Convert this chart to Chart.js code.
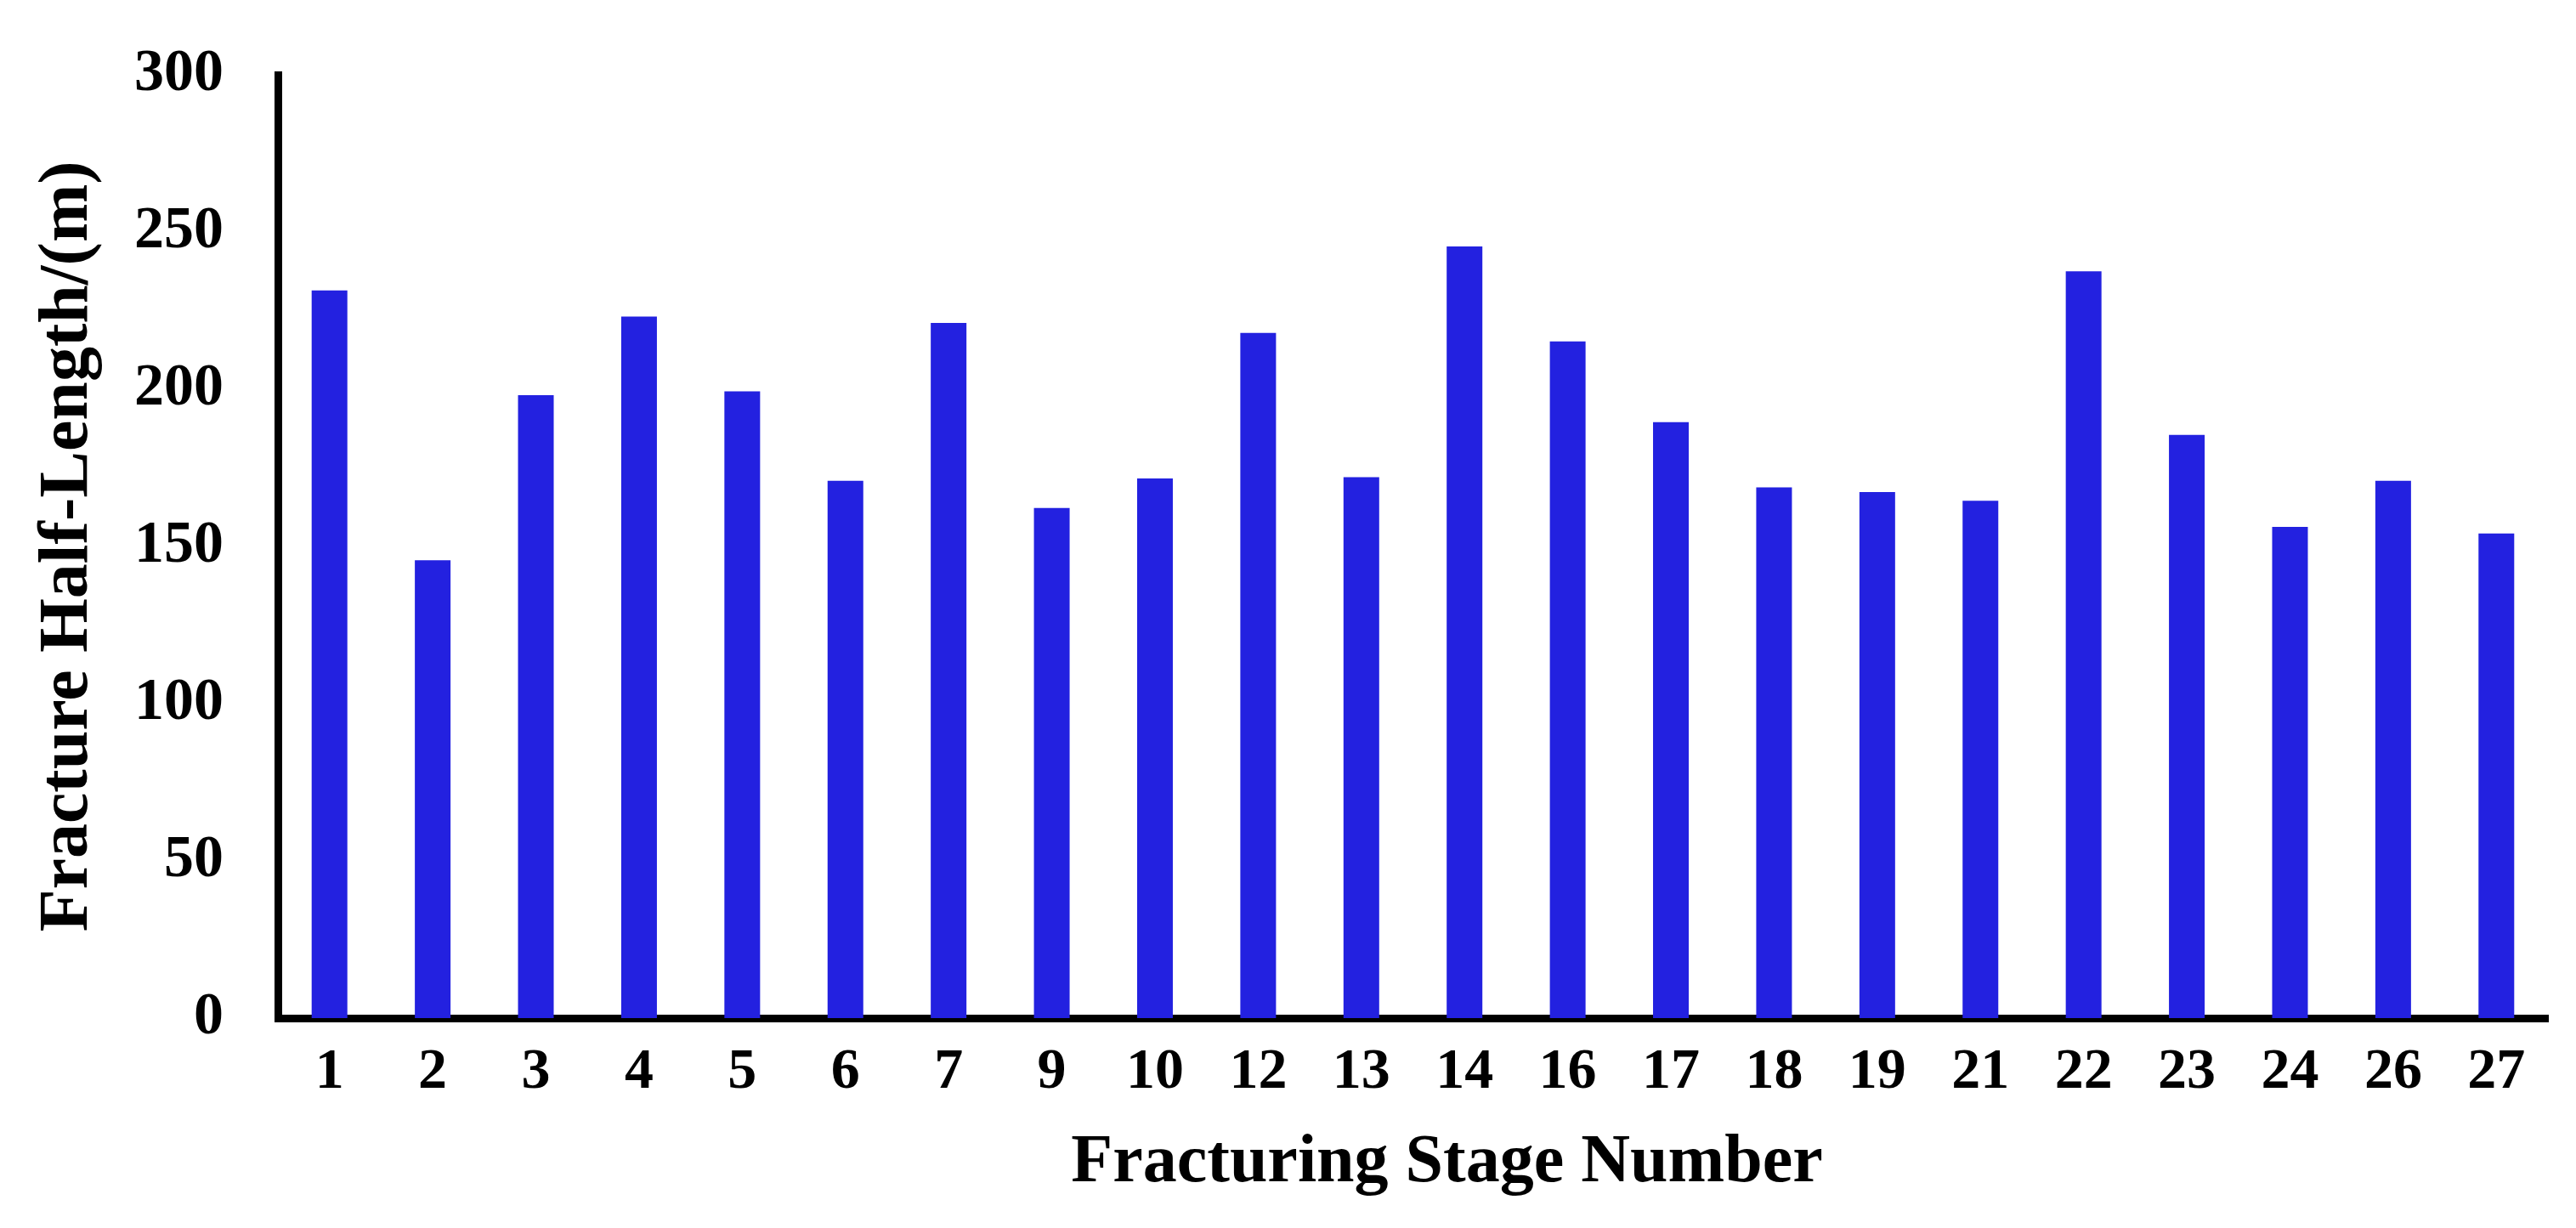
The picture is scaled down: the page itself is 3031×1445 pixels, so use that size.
<!DOCTYPE html>
<html>
<head>
<meta charset="utf-8">
<script src="https://cdn.jsdelivr.net/npm/chart.js@4.4.1/dist/chart.umd.min.js"></script>
<style>
  html, body { margin: 0; padding: 0; background: #ffffff; }
  #wrap { width: 3031px; height: 1445px; position: relative; }
</style>
</head>
<body>
<div id="wrap"><canvas id="chart"></canvas></div>
<script>
const stages = ['1','2','3','4','5','6','7','9','10','12','13','14','16','17','18','19','21','22','23','24','26','27'];
const halfLengths = [231.4, 145.6, 198.1, 223.1, 199.3, 170.9, 221.1, 162.2, 171.6, 217.9, 172.0, 245.4, 215.2, 189.5, 168.8, 167.3, 164.5, 237.5, 185.5, 156.2, 170.9, 154.1];
const yTicks = [0, 50, 100, 150, 200, 250, 300];
const xTitle = '\u2002\u2002Fracturing Stage Number';
const yTitle = 'Fracture Half-Length/(m)';

const FONT = "'Liberation Serif', 'Times New Roman', serif";

new Chart(document.getElementById('chart'), {
  type: 'bar',
  data: {
    labels: stages,
    datasets: [{
      data: halfLengths,
      backgroundColor: '#2321E0',
      borderWidth: 0,
      categoryPercentage: 1.0,
      barPercentage: 0.346
    }]
  },
  options: {
    responsive: true,
    maintainAspectRatio: false,
    animation: false,
    devicePixelRatio: 1,
    layout: { padding: { top: 88, right: 33, left: 0, bottom: 0 } },
    plugins: { legend: { display: false }, tooltip: { enabled: false } },
    scales: {
      x: {
        z: 1,
        offset: true,
        grid: { display: false, drawTicks: false },
        border: { display: true, color: '#000000', width: 9 },
        ticks: {
          color: '#000000',
          padding: 24,
          maxRotation: 0,
          autoSkip: false,
          font: { family: FONT, size: 68, weight: 'bold' }
        },
        title: {
          display: true,
          text: xTitle,
          color: '#000000',
          padding: { top: 0, bottom: 28 },
          font: { family: FONT, size: 80, weight: 'bold' }
        },
        afterFit: (scale) => { scale.height = 247; }
      },
      y: {
        z: 1,
        min: 0,
        max: 300,
        afterBuildTicks: (scale) => { scale.ticks = yTicks.map(v => ({ value: v })); },
        grid: { display: false, drawTicks: true, tickLength: 64, tickColor: 'rgba(0,0,0,0)' },
        border: { display: true, color: '#000000', width: 9 },
        ticks: {
          color: '#000000',
          padding: 0,
          font: { family: FONT, size: 70, weight: 'bold' }
        },
        title: {
          display: true,
          text: yTitle,
          color: '#000000',
          padding: { top: 32, bottom: 0 },
          font: { family: FONT, size: 82, weight: 'bold' }
        },
        afterFit: (scale) => { scale.width = 327; }
      }
    }
  }
});
</script>
</body>
</html>
